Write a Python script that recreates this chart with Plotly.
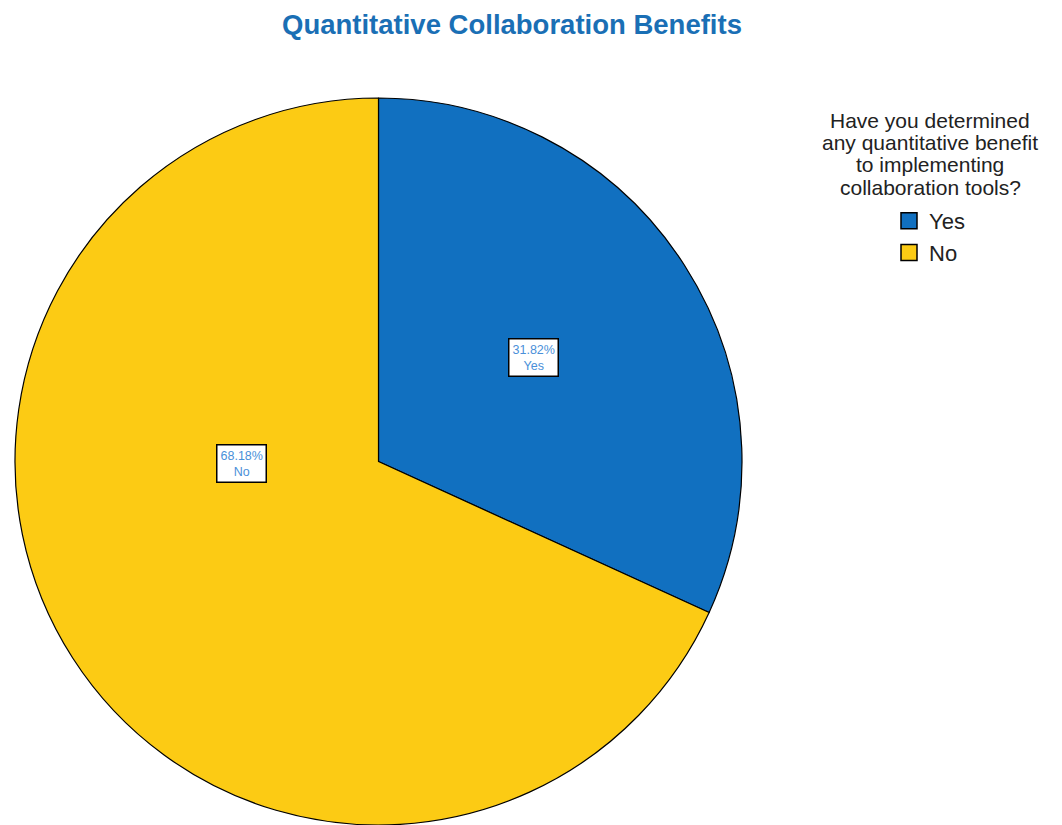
import plotly.graph_objects as go

categories = ["Yes", "No"]
percentages = [31.82, 68.18]
colors = ["#1170C0", "#FCCB14"]
title_text = "Quantitative Collaboration Benefits"
legend_title_lines = [
    "Have you determined",
    "any quantitative benefit",
    "to implementing",
    "collaboration tools?",
]

W, H = 1062, 825
ML, MR, MT, MB = 15, 0, 98, 0
PW, PH = W - ML - MR, H - MT - MB
FONT = "Liberation Sans, Arial, sans-serif"


def px(x):
    return (x - ML) / PW


def py(y):
    return 1 - (y - MT) / PH


fig = go.Figure()
fig.add_trace(go.Pie(
    labels=categories,
    values=percentages,
    sort=False,
    direction="clockwise",
    rotation=0,
    marker=dict(colors=colors, line=dict(color="black", width=1.2)),
    textinfo="none",
    hoverinfo="label+percent",
    showlegend=False,
    domain=dict(x=[0, PH / PW], y=[0, 1]),
))

# legend proxies (square swatches)
for cat, col in zip(categories, colors):
    fig.add_trace(go.Scatter(
        x=[None], y=[None], mode="markers", name=cat,
        marker=dict(symbol="square", size=18, color=col,
                    line=dict(color="black", width=1.5)),
        showlegend=True, hoverinfo="skip",
    ))

label_pos = {"Yes": (533, 357), "No": (241, 463)}
annotations = []
for cat, pct in zip(categories, percentages):
    x, y = label_pos[cat]
    annotations.append(dict(
        x=px(x), y=py(y), xref="paper", yref="paper",
        text=f"{pct:.2f}%<br>{cat}", showarrow=False,
        font=dict(family=FONT, size=12.5, color="#4A90D9"),
        bgcolor="white", bordercolor="black", borderwidth=1.5, borderpad=3,
        xanchor="center", yanchor="middle",
    ))

line_centers = [120, 142.5, 165, 187.5]
for line, yc in zip(legend_title_lines, line_centers):
    annotations.append(dict(
        x=px(930), y=py(yc), xref="paper", yref="paper",
        text=line, showarrow=False, align="center",
        font=dict(family=FONT, size=21, color="#222222"),
        xanchor="center", yanchor="middle",
    ))

fig.update_layout(
    width=W, height=H,
    margin=dict(l=ML, r=MR, t=MT, b=MB),
    paper_bgcolor="white", plot_bgcolor="white",
    title=dict(text=f"<b>{title_text}</b>", x=512 / W, xref="container",
               y=1 - 24 / H, yref="container", xanchor="center", yanchor="middle",
               font=dict(family=FONT, size=27.5, color="#1A6FB5")),
    showlegend=True,
    legend=dict(x=px(889), y=py(200), xanchor="left", yanchor="top",
                font=dict(family=FONT, size=22, color="#222222"),
                itemsizing="trace", tracegroupgap=0,
                bgcolor="rgba(0,0,0,0)"),
    xaxis=dict(visible=False),
    yaxis=dict(visible=False),
    annotations=annotations,
)

fig.write_html("out.html", config={"displayModeBar": False},
               post_script="document.body.style.margin='0px';")
